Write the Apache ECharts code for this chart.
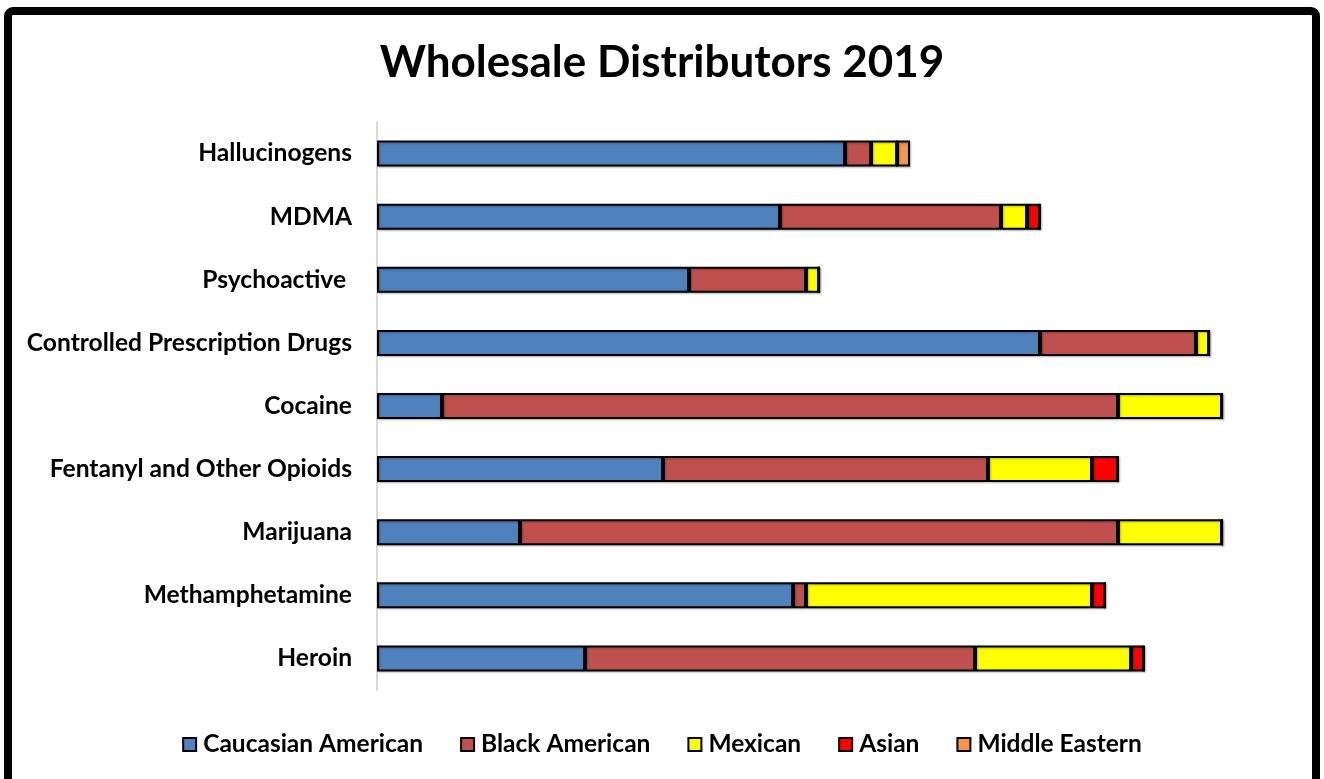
<!DOCTYPE html>
<html>
<head>
<meta charset="utf-8">
<script src="https://cdn.jsdelivr.net/npm/echarts@6/dist/echarts.min.js"></script>
<style>
  html, body { margin: 0; padding: 0; background: #fff; }
  #chart { width: 1324px; height: 779px; }
</style>
</head>
<body>
<div id="chart"></div>
<script>
// Drug categories, top to bottom
const categories = [
  'Hallucinogens', 'MDMA', 'Psychoactive ', 'Controlled Prescription Drugs',
  'Cocaine', 'Fentanyl and Other Opioids', 'Marijuana', 'Methamphetamine', 'Heroin'
];

// Number of wholesale distributors by group, per category
const caucasianAmerican = [36, 31, 24, 51, 5, 22, 11, 32, 16];
const blackAmerican     = [2, 17, 9, 12, 52, 25, 46, 1, 30];
const mexican           = [2, 2, 1, 1, 8, 8, 8, 22, 12];
const asian             = [0, 1, 0, 0, 0, 2, 0, 1, 1];
const middleEastern     = [1, 0, 0, 0, 0, 0, 0, 0, 0];

const seriesDefs = [
  { name: 'Caucasian American', data: caucasianAmerican, color: '#4F81BD' },
  { name: 'Black American',     data: blackAmerican,     color: '#C0504D' },
  { name: 'Mexican',            data: mexican,           color: '#FFFF00' },
  { name: 'Asian',              data: asian,             color: '#FF0000' },
  { name: 'Middle Eastern',     data: middleEastern,     color: '#F79646' }
];

const font = 'Lato, "Open Sans", "Noto Sans", sans-serif';

const chart = echarts.init(document.getElementById('chart'), null, { renderer: 'canvas' });

chart.setOption({
  backgroundColor: '#fff',
  animation: false,
  title: {
    text: 'Wholesale Distributors 2019',
    left: 'center',
    top: 36,
    textStyle: { fontFamily: font, fontWeight: 'bold', fontSize: 44, color: '#000' }
  },
  legend: {
    bottom: 17,
    left: 'center',
    itemWidth: 13,
    itemHeight: 13,
    itemGap: 37,
    icon: 'rect',
    textStyle: { fontFamily: font, fontWeight: 'bold', fontSize: 24.5, color: '#000', padding: [0, 0, 0, 2] },
    data: seriesDefs.map(s => s.name)
  },
  grid: { left: 377, top: 122, width: 910, height: 568, containLabel: false },
  xAxis: {
    type: 'value',
    min: 0,
    max: 70,
    show: false
  },
  yAxis: {
    type: 'category',
    inverse: true,
    data: categories,
    axisLine: { show: true, lineStyle: { color: '#D9D9D9', width: 2 } },
    axisTick: { show: false },
    axisLabel: { fontFamily: font, fontWeight: 'bold', fontSize: 24.6, color: '#000', margin: 25 }
  },
  series: seriesDefs.map(s => ({
    name: s.name,
    type: 'bar',
    stack: 'total',
    barWidth: 26,
    data: s.data,
    itemStyle: {
      color: s.color,
      borderColor: '#000',
      borderWidth: 2,
      shadowColor: 'rgba(0,0,0,0.25)',
      shadowBlur: 2,
      shadowOffsetX: 1,
      shadowOffsetY: 1
    }
  })),
  graphic: [{
    type: 'rect',
    shape: { x: 8, y: 11, width: 1308, height: 820, r: 5 },
    style: { fill: 'none', stroke: '#000', lineWidth: 8 },
    silent: true,
    z: 100
  }]
});
</script>
</body>
</html>
